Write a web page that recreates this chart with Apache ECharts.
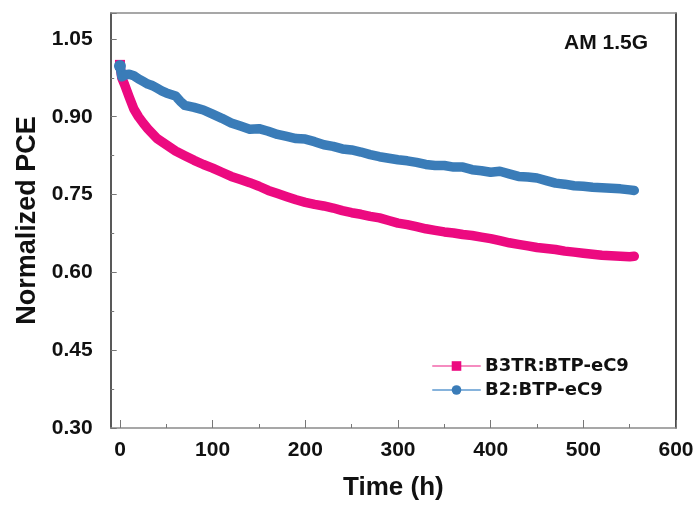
<!DOCTYPE html>
<html><head><meta charset="utf-8">
<script src="https://cdn.jsdelivr.net/npm/echarts@6/dist/echarts.min.js"></script>
<style>html,body{margin:0;padding:0;background:#fff}#c{width:699px;height:506px}</style>
</head><body><div id="c"></div>
<script>
const seriesNames = ['B3TR:BTP-eC9', 'B2:BTP-eC9'];
const xMajorTicks = [0,100,200,300,400,500,600];
const xMinorTicks = [50,150,250,350,450,550];
const pinkTimes = [0,2,5,10,15,20,25,30,40,50,60,70,80,90,100,110,120,130,140,150,160,170,180,190,200,210,220,230,240,250,260,270,280,290,300,310,320,330,340,350,360,370,380,390,400,410,420,430,440,450,460,470,480,490,500,510,520,530,540,550,555];
const pinkValues = [1.000,0.975,0.962,0.938,0.915,0.900,0.888,0.877,0.858,0.846,0.834,0.825,0.816,0.808,0.801,0.793,0.785,0.779,0.773,0.766,0.758,0.752,0.746,0.740,0.735,0.731,0.728,0.724,0.719,0.715,0.712,0.708,0.705,0.700,0.695,0.692,0.688,0.684,0.681,0.678,0.676,0.673,0.671,0.668,0.665,0.661,0.657,0.654,0.651,0.648,0.646,0.644,0.641,0.639,0.637,0.635,0.633,0.632,0.631,0.630,0.631];
const blueTimes = [0,2,6,10,15,20,25,30,35,40,45,50,55,60,65,70,80,90,100,110,120,130,140,150,160,170,180,190,200,210,220,230,240,250,260,270,280,290,300,310,320,330,340,350,360,370,380,390,400,410,420,430,440,450,460,470,480,490,500,510,520,530,540,550,555];
const blueValues = [0.998,0.977,0.981,0.982,0.979,0.973,0.968,0.963,0.960,0.955,0.950,0.946,0.943,0.940,0.930,0.922,0.918,0.913,0.905,0.897,0.888,0.882,0.876,0.877,0.872,0.866,0.862,0.858,0.857,0.852,0.846,0.843,0.838,0.836,0.832,0.827,0.823,0.820,0.817,0.815,0.812,0.808,0.806,0.806,0.803,0.803,0.798,0.796,0.793,0.795,0.790,0.785,0.784,0.782,0.777,0.772,0.770,0.767,0.766,0.764,0.763,0.762,0.761,0.759,0.758];
const annotation = 'AM 1.5G';

const pink = '#EC0A80', blue = '#3A7CB8';
const FONT = 'Liberation Sans';
function pairs(t, v, size){ return t.map((x,i)=>{ const d={value:[x,v[i]]}; if(i===0){d.symbolSize=size;} return d; }); }

const chart = echarts.init(document.getElementById('c'), null, {renderer:'canvas'});
chart.setOption({
  animation:false,
  backgroundColor:'#fff',
  grid:{left:110.7, right:23, top:13, bottom:77.3},
  xAxis:[{
    type:'value', min:-10, max:600,
    name:'Time (h)', nameLocation:'middle', nameGap:47,
    nameTextStyle:{fontFamily:FONT, fontWeight:'bold', fontSize:26, color:'#111'},
    axisLine:{onZero:false, lineStyle:{color:'#8a8a8a', width:1.5}},
    axisTick:{inside:true, length:8, lineStyle:{color:'#777'}, customValues:xMajorTicks},
    splitLine:{show:false},
    axisLabel:{fontFamily:FONT, fontWeight:'bold', fontSize:21, color:'#111', margin:12,
      customValues:xMajorTicks, formatter:v=>String(v)}
  },{
    type:'value', position:'top', min:-10, max:600,
    axisLine:{show:true, onZero:false, lineStyle:{color:'#8a8a8a', width:1.5}},
    axisTick:{show:false}, axisLabel:{show:false}, splitLine:{show:false}
  },{
    type:'value', position:'bottom', min:-10, max:600,
    axisLine:{show:false, onZero:false},
    axisTick:{show:true, inside:true, length:4, lineStyle:{color:'#777'}, customValues:xMinorTicks},
    axisLabel:{show:false}, splitLine:{show:false}
  }],
  yAxis:[{
    type:'value', min:0.30, max:1.10, interval:0.15,
    name:'Normalized PCE', nameLocation:'middle', nameGap:68,
    nameTextStyle:{fontFamily:FONT, fontWeight:'bold', fontSize:27, color:'#111'},
    axisLine:{onZero:false, lineStyle:{color:'#222', width:1.5}},
    axisTick:{inside:true, length:6, lineStyle:{color:'#777'}},
    minorTick:{show:true, splitNumber:2, length:3.5, lineStyle:{color:'#777'}},
    splitLine:{show:false},
    axisLabel:{fontFamily:FONT, fontWeight:'bold', fontSize:21, color:'#111', margin:18,
      showMaxLabel:false, formatter:v=>v.toFixed(2)}
  },{
    type:'value', position:'right', min:0.30, max:1.10,
    axisLine:{show:true, onZero:false, lineStyle:{color:'#111', width:1.5}},
    axisTick:{show:false}, axisLabel:{show:false}, splitLine:{show:false}
  }],
  legend:{
    orient:'vertical', left:427, top:352, itemWidth:47, itemHeight:12, itemGap:6,
    textStyle:{fontFamily:'DejaVu Sans', fontWeight:'bold', fontSize:18, color:'#111'},
    data:[
      {name:seriesNames[0], lineStyle:{width:2, color:'#F58CC0'}, itemStyle:{color:pink}},
      {name:seriesNames[1], lineStyle:{width:2, color:'#86B3DC'}, itemStyle:{color:blue}}
    ]
  },
  graphic:[{
    type:'text', left:564, top:33,
    style:{text:annotation, fontFamily:FONT, fontWeight:'bold', fontSize:21, fill:'#111'}
  }],
  series:[{
    name:seriesNames[0], type:'line', data:pairs(pinkTimes,pinkValues,10),
    symbol:'rect', symbolSize:0, showAllSymbol:true,
    itemStyle:{color:pink}, lineStyle:{color:pink, width:9.5, join:'round', cap:'round'}, z:2
  },{
    name:seriesNames[1], type:'line', data:pairs(blueTimes,blueValues,12),
    symbol:'circle', symbolSize:0, showAllSymbol:true,
    itemStyle:{color:blue}, lineStyle:{color:blue, width:9.5, join:'round', cap:'round'}, z:3
  }]
});
</script></body></html>
